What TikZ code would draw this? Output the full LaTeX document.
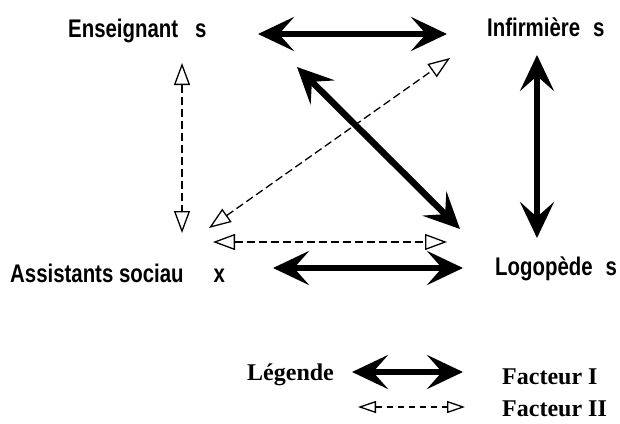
\documentclass[tikz,border=0pt]{standalone}
\usepackage{fontspec}
\setmainfont{Liberation Serif}
\newfontfamily\lblfont{Liberation Sans}[FakeStretch=0.8]
\usetikzlibrary{arrows.meta}

\begin{document}
\begin{tikzpicture}[x=1pt, y=-1pt,
  grp/.style = {anchor=base west, inner sep=0pt, font=\lblfont\fontsize{25.5}{28}\selectfont\bfseries},
  leg/.style = {anchor=base west, inner sep=0pt, font=\fontsize{24}{27}\selectfont\bfseries},
  fone/.style = {line width=6.5pt, {Stealth[length=36pt, width=34pt, inset=15pt]}-{Stealth[length=36pt, width=34pt, inset=15pt]}},
  ftwo/.style = {line width=1.3pt, dash pattern=on 8pt off 4pt, {Triangle[open, length=22pt, width=16pt]}-{Triangle[open, length=22pt, width=16pt]}}]
\useasboundingbox (0,0) rectangle (620,423);
% groupes
\node[grp] (ens) at (68,37) {Enseignant\hspace{17pt}s};
\node[grp] (inf) at (487,36) {Infirmière\hspace{13pt}s};
\node[grp] (ass) at (10,282) {Assistants sociau\hspace{30pt}x};
\node[grp] (log) at (495,275) {Logopède\hspace{13pt}s};
% bouts des fleches
\coordinate (ens-r) at (258,34);
\coordinate (inf-l) at (447,34);
\coordinate (inf-b) at (537,55);
\coordinate (log-t) at (537,238);
\coordinate (ens-dr) at (297,67);
\coordinate (log-ul) at (460,229);
\coordinate (ass-r) at (273,268);
\coordinate (log-l) at (463,268);
\coordinate (ens-b) at (182,63);
\coordinate (ass-t) at (182,233);
\coordinate (ass-ur) at (209,228);
\coordinate (inf-dl) at (450,58);
\coordinate (ass-r2) at (213,242);
\coordinate (log-l2) at (447,242);
% facteur I
\draw[fone] (ens-r) -- (inf-l);
\draw[fone] (inf-b) -- (log-t);
\draw[fone] (ens-dr) -- (log-ul);
\draw[fone] (ass-r) -- (log-l);
% facteur II
\draw[ftwo] (ens-b) -- (ass-t);
\draw[ftwo] (ass-ur) -- (inf-dl);
\draw[ftwo] (ass-r2) -- (log-l2);
% legende
\node[leg] (lgd) at (247,380) {Légende};
\node[leg] (f1) at (502,384) {Facteur I};
\node[leg] (f2) at (502,416) {Facteur II};
\coordinate (l1a) at (352,372);
\coordinate (l1b) at (463,372);
\coordinate (l2a) at (358,407);
\coordinate (l2b) at (465,407);
\draw[fone] (l1a) -- (l1b);
\draw[ftwo, dash pattern=on 6pt off 5pt, {Triangle[open, length=18pt, width=12pt]}-{Triangle[open, length=18pt, width=12pt]}] (l2a) -- (l2b);
\end{tikzpicture}
\end{document}
